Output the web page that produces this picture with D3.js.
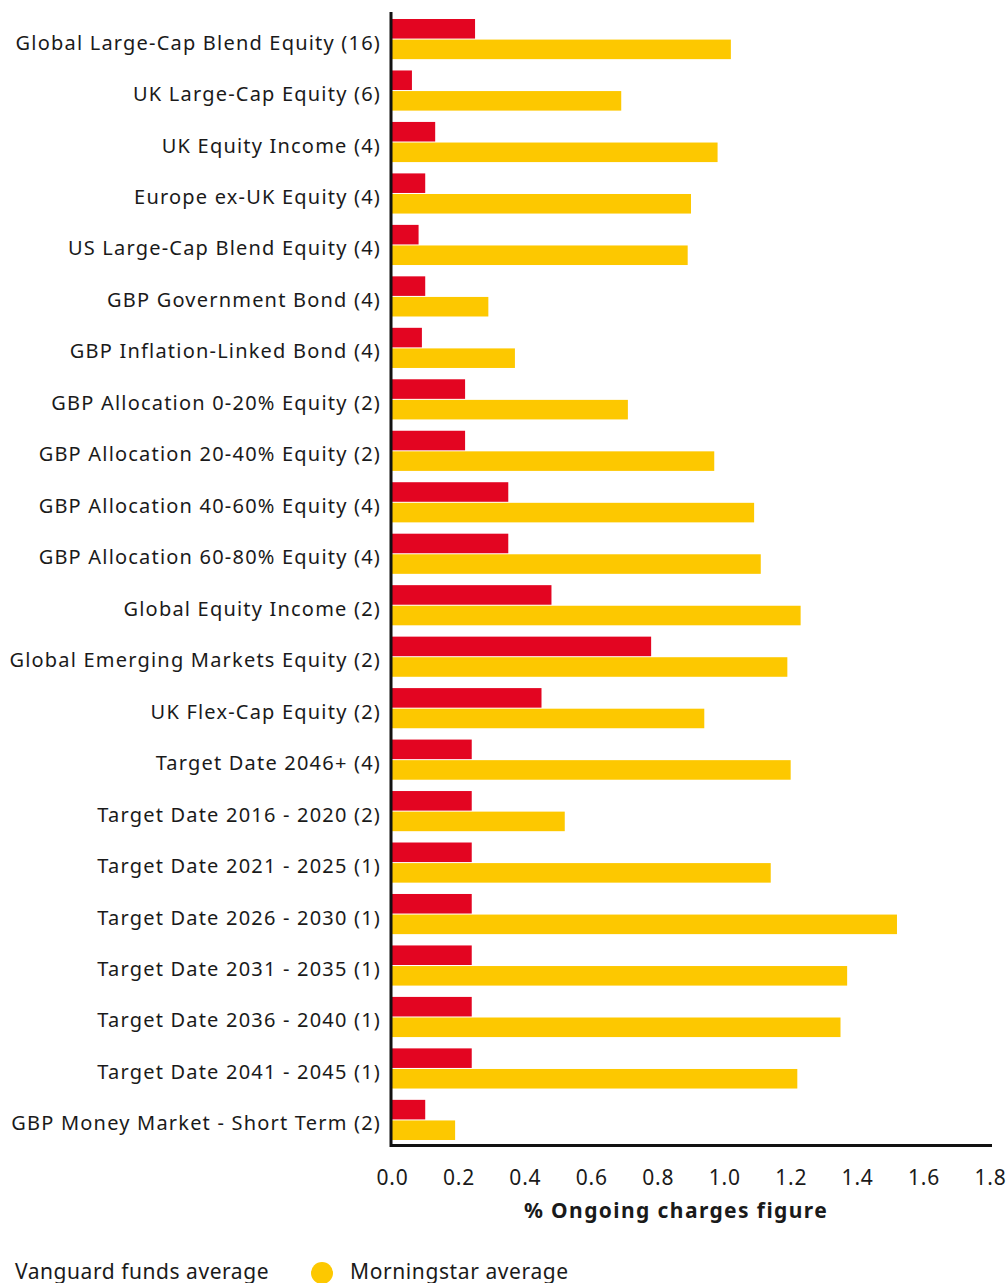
<!DOCTYPE html>
<html lang="en">
<head>
<meta charset="UTF-8" />
<title>Ongoing charges</title>
<script src="https://d3js.org/d3.v7.min.js"></script>
<style>
    body { margin: 0; background: #fff; }
    text { font-family: "Noto Sans", sans-serif; fill: #1a1a1a; }
    .axis path, .axis line { display: none; }
    .axis text { font-size: 21px; letter-spacing: 0.8px; }
</style>
</head>
<body>
<script>
var categories = [
    "Global Large-Cap Blend Equity (16)",
    "UK Large-Cap Equity (6)",
    "UK Equity Income (4)",
    "Europe ex-UK Equity (4)",
    "US Large-Cap Blend Equity (4)",
    "GBP Government Bond (4)",
    "GBP Inflation-Linked Bond (4)",
    "GBP Allocation 0-20% Equity (2)",
    "GBP Allocation 20-40% Equity (2)",
    "GBP Allocation 40-60% Equity (4)",
    "GBP Allocation 60-80% Equity (4)",
    "Global Equity Income (2)",
    "Global Emerging Markets Equity (2)",
    "UK Flex-Cap Equity (2)",
    "Target Date 2046+ (4)",
    "Target Date 2016 - 2020 (2)",
    "Target Date 2021 - 2025 (1)",
    "Target Date 2026 - 2030 (1)",
    "Target Date 2031 - 2035 (1)",
    "Target Date 2036 - 2040 (1)",
    "Target Date 2041 - 2045 (1)",
    "GBP Money Market - Short Term (2)"
];
var vanguard = [0.25, 0.06, 0.13, 0.10, 0.08, 0.10, 0.09, 0.22, 0.22, 0.35, 0.35,
                0.48, 0.78, 0.45, 0.24, 0.24, 0.24, 0.24, 0.24, 0.24, 0.24, 0.10];
var morningstar = [1.02, 0.69, 0.98, 0.90, 0.89, 0.29, 0.37, 0.71, 0.97, 1.09, 1.11,
                   1.23, 1.19, 0.94, 1.20, 0.52, 1.14, 1.52, 1.37, 1.35, 1.22, 0.19];
var series = ["Vanguard funds average", "Morningstar average"];
var colors = ["#e30521", "#fdc800"];
var xTicks = [0, 0.2, 0.4, 0.6, 0.8, 1.0, 1.2, 1.4, 1.6, 1.8];

var W = 1008, H = 1283;
var svg = d3.select("body").append("svg").attr("width", W).attr("height", H);

var data = categories.map(function(c, i) {
    return {cat: c, vals: [vanguard[i], morningstar[i]]};
});

var x = d3.scaleLinear().domain([0, 1.8]).range([392, 990]);
var y = d3.scaleBand().domain(categories).range([19, 1140]).paddingInner(0.22).paddingOuter(0);
var ySub = d3.scaleBand().domain([0, 1]).range([0, y.bandwidth()]).paddingInner(0.05);

// bars
var groups = svg.selectAll(".grp").data(data).enter().append("g")
    .attr("class", "grp")
    .attr("transform", function(d) { return "translate(0," + y(d.cat) + ")"; });

groups.selectAll("rect").data(function(d) { return d.vals; }).enter().append("rect")
    .attr("x", x(0))
    .attr("y", function(d, i) { return ySub(i); })
    .attr("width", function(d) { return x(d) - x(0); })
    .attr("height", ySub.bandwidth())
    .attr("fill", function(d, i) { return colors[i]; });

// category labels
svg.append("g").selectAll("text").data(categories).enter().append("text")
    .attr("x", 381)
    .attr("y", function(d) { return y(d) + y.bandwidth() / 2 + 3; })
    .attr("text-anchor", "end")
    .attr("dominant-baseline", "central")
    .style("font-size", "20px")
    .style("letter-spacing", "1.2px")
    .text(function(d) { return d; });

// x axis
var xAxis = svg.append("g").attr("class", "axis")
    .attr("transform", "translate(0,1145)")
    .call(d3.axisBottom(x).tickValues(xTicks).tickFormat(d3.format(".1f")).tickSize(0).tickPadding(25));
xAxis.selectAll("text").attr("fill", "#1a1a1a").style("font-family", "Noto Sans, sans-serif");

// axis lines
svg.append("line").attr("x1", 391).attr("x2", 992).attr("y1", 1145.5).attr("y2", 1145.5)
    .attr("stroke", "#111").attr("stroke-width", 3);
svg.append("line").attr("x1", 391).attr("x2", 391).attr("y1", 12).attr("y2", 1147)
    .attr("stroke", "#111").attr("stroke-width", 3);

svg.append("text")
    .attr("x", 676).attr("y", 1218)
    .attr("text-anchor", "middle")
    .style("font-size", "21px").style("font-weight", "bold")
    .style("letter-spacing", "1.4px")
    .text("% Ongoing charges figure");

// legend
svg.append("text").attr("x", 15).attr("y", 1279).style("font-size", "21px")
    .style("letter-spacing", "0.55px").text(series[0]);
svg.append("circle").attr("cx", 322).attr("cy", 1273).attr("r", 11).attr("fill", colors[1]);
svg.append("text").attr("x", 350).attr("y", 1279).style("font-size", "21px")
    .style("letter-spacing", "0.6px").text(series[1]);
</script>
</body>
</html>
